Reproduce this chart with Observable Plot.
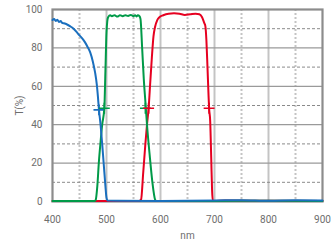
<!DOCTYPE html>
<html>
<head>
<meta charset="utf-8">
<script src="https://cdn.jsdelivr.net/npm/d3@7"></script>
<script src="https://cdn.jsdelivr.net/npm/@observablehq/plot@0.6"></script>
<style>
  html, body { margin: 0; padding: 0; background: #fff; }
  #chart { width: 333px; height: 250px; }
</style>
</head>
<body>
<div id="chart"></div>
<script>
// Tick labels / grid positions
const xTicks = [400, 500, 600, 700, 800, 900];
const xMinor = [450, 550, 650, 750, 850];
const yTicks = [0, 20, 40, 60, 80, 100];
const yMajorGrid = [20, 40, 60, 80];
const yMinorGrid = [10, 30, 50, 70, 90];

// Blue filter (short-pass)
const blueWl = [400, 403, 406, 409, 412, 415, 418, 421, 427, 433, 439, 445, 450, 455, 460, 465, 470, 475, 479, 482, 484, 486, 489, 492, 495, 498, 500, 502, 520, 600, 700, 750, 800, 850, 900];
const blueT  = [94.5, 95, 94, 94.7, 93.5, 94, 93, 92.8, 92.2, 91.2, 90, 88.2, 86.5, 85, 83, 80.5, 77.5, 72.5, 67, 61, 55, 48, 40, 30, 19, 8, 2, 0.5, 0.4, 0.3, 0.5, 0.7, 0.4, 0.6, 0.5];

// Green filter (band-pass)
const greenWl = [400, 470, 478, 480, 483, 486, 489, 492, 496, 498, 500, 501.5, 503, 507, 510, 515, 520, 525, 530, 535, 540, 545, 550, 553, 556, 558, 561, 563, 566, 569, 572, 575, 580, 585, 590, 592, 700, 800, 900];
const greenT  = [0.2, 0.2, 0.3, 0.8, 8, 21, 31, 40, 48.6, 68, 88, 94, 96, 97, 96.5, 97, 96.3, 97, 96.5, 97, 96.6, 97.2, 96.5, 97, 96.4, 97, 96.5, 95, 80, 64, 52, 40, 24, 10, 1, 0.3, 0.3, 0.4, 0.3];

// Red filter (band-pass)
const redWl = [400, 560, 564, 568, 572, 575, 578, 581, 584, 587, 590, 594, 598, 605, 615, 625, 635, 645, 655, 665, 672, 677, 681, 683, 685, 687, 689, 690, 692, 694, 695.5, 697, 700, 720, 800, 900];
const redT  = [0.2, 0.2, 1, 15, 30, 40, 48.6, 62, 75, 86, 91, 94.5, 96, 97, 97.8, 98, 97.8, 97.2, 97.5, 97.8, 97.5, 96, 93, 91.5, 84, 70, 55, 48.6, 42, 22, 6, 0.5, 0.3, 0.5, 0.4, 0.3];

// 50% crossing markers
const markWl    = [486, 496, 572, 578, 690];
const markT     = [47.7, 48.6, 48.6, 48.6, 48.6];
const markColor = ["blue", "green", "green", "red", "red"];

const colors = { blue: "#1a6fbe", green: "#009a48", red: "#e60020" };

const toRows = (wl, t) => wl.map((w, i) => ({ wl: w, t: t[i] }));
const blue = toRows(blueWl, blueT);
const green = toRows(greenWl, greenT);
const red = toRows(redWl, redT);
const marks = markWl.map((w, i) => ({ wl: w, t: markT[i], c: colors[markColor[i]] }));

const chart = Plot.plot({
  width: 333,
  height: 250,
  marginLeft: 52,
  marginRight: 11,
  marginTop: 9,
  marginBottom: 49,
  style: { fontFamily: "Roboto, 'Open Sans', sans-serif", fontSize: "10px", color: "#6e6e6e", background: "#fff" },
  x: { domain: [400, 900], ticks: xTicks, tickSize: 0, tickPadding: 14, label: "nm", labelAnchor: "center", labelOffset: 37, labelArrow: "none", tickFormat: d3.format("d") },
  y: { domain: [0, 100], ticks: yTicks, tickSize: 0, tickPadding: 10, label: "T(%)", labelAnchor: "center", labelOffset: 37, labelArrow: "none", tickFormat: d3.format("d") },
  marks: [
    Plot.ruleX(xMinor, { stroke: "#c4c4c4", strokeWidth: 2, strokeDasharray: "2,2" }),
    Plot.ruleX(xTicks.slice(1, -1), { stroke: "#c4c4c4", strokeWidth: 2 }),
    Plot.ruleY(yMinorGrid, { stroke: "#8a8a8a", strokeWidth: 1, strokeDasharray: "3,2" }),
    Plot.ruleY(yMajorGrid, { stroke: "#9a9a9a", strokeWidth: 1.2 }),
    Plot.frame({ stroke: "#8c8c8c", strokeWidth: 2.2 }),
    Plot.line(red, { x: "wl", y: "t", stroke: colors.red, strokeWidth: 2, curve: "monotone-x" }),
    Plot.line(green, { x: "wl", y: "t", stroke: colors.green, strokeWidth: 2, curve: "monotone-x" }),
    Plot.line(blue, { x: "wl", y: "t", stroke: colors.blue, strokeWidth: 2, curve: "monotone-x" }),
    Plot.dot(marks, { x: "wl", y: "t", symbol: "plus", r: 3.6, stroke: "c", strokeWidth: 1.6 })
  ]
});

document.getElementById("chart").appendChild(chart);
</script>
</body>
</html>
